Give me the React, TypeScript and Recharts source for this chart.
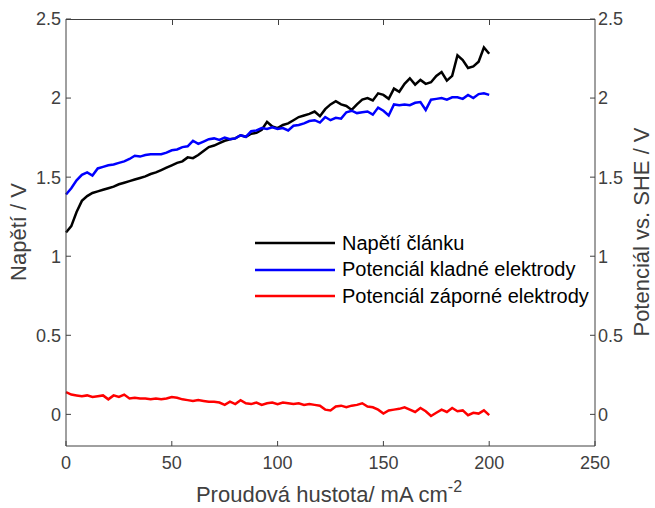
import { Legend, Line, LineChart, XAxis, YAxis } from "recharts";

const proud = [
  0, 2.5, 5, 7.5, 10, 12.5, 15, 17.5, 20, 22.5, 25, 27.5, 30, 32.5, 35, 37.5, 40, 42.5, 45, 47.5,
  50, 52.5, 55, 57.5, 60, 62.5, 65, 67.5, 70, 72.5, 75, 77.5, 80, 82.5, 85, 87.5, 90, 92.5, 95, 97.5,
  100, 102.5, 105, 107.5, 110, 112.5, 115, 117.5, 120, 122.5, 125, 127.5, 130, 132.5, 135, 137.5, 140, 142.5, 145, 147.5,
  150, 152.5, 155, 157.5, 160, 162.5, 165, 167.5, 170, 172.5, 175, 177.5, 180, 182.5, 185, 187.5, 190, 192.5, 195, 197.5,
  200,
];

const napetiClanku = [
  1.15, 1.19, 1.28, 1.35, 1.38, 1.4, 1.41, 1.42, 1.43, 1.44, 1.455, 1.465, 1.475, 1.485, 1.495, 1.505, 1.52, 1.53, 1.545, 1.56,
  1.575, 1.59, 1.6, 1.625, 1.62, 1.64, 1.665, 1.69, 1.7, 1.715, 1.73, 1.74, 1.745, 1.765, 1.755, 1.775, 1.78, 1.8, 1.85, 1.82,
  1.81, 1.83, 1.84, 1.86, 1.88, 1.89, 1.9, 1.915, 1.885, 1.93, 1.96, 1.98, 1.96, 1.95, 1.925, 1.96, 1.99, 2.0, 1.985, 2.03,
  2.02, 1.995, 2.06, 2.04, 2.09, 2.125, 2.085, 2.115, 2.09, 2.1, 2.14, 2.165, 2.11, 2.14, 2.27, 2.24, 2.19, 2.2, 2.23, 2.32,
  2.28,
];

const kladnaElektroda = [
  1.39, 1.43, 1.48, 1.515, 1.53, 1.51, 1.555, 1.565, 1.575, 1.58, 1.59, 1.6, 1.615, 1.635, 1.63, 1.64, 1.645, 1.645, 1.645, 1.655,
  1.67, 1.675, 1.69, 1.695, 1.73, 1.71, 1.725, 1.74, 1.745, 1.735, 1.75, 1.74, 1.745, 1.765, 1.755, 1.79, 1.795, 1.81, 1.805, 1.815,
  1.805, 1.81, 1.795, 1.825, 1.83, 1.84, 1.855, 1.86, 1.845, 1.88, 1.86, 1.875, 1.87, 1.91, 1.92, 1.905, 1.91, 1.915, 1.895, 1.94,
  1.92, 1.89, 1.96, 1.955, 1.96, 1.955, 1.97, 1.975, 1.925, 1.99, 1.995, 2.0, 1.99, 2.005, 2.005, 1.995, 2.02, 2.0, 2.025, 2.03,
  2.02,
];

const zapornaElektroda = [
  0.14, 0.125, 0.12, 0.115, 0.12, 0.11, 0.115, 0.12, 0.095, 0.12, 0.11, 0.125, 0.1, 0.105, 0.1, 0.1, 0.095, 0.1, 0.095, 0.1,
  0.11, 0.105, 0.095, 0.09, 0.085, 0.09, 0.085, 0.08, 0.08, 0.075, 0.06, 0.08, 0.065, 0.09, 0.07, 0.065, 0.075, 0.06, 0.07, 0.075,
  0.065, 0.075, 0.07, 0.065, 0.07, 0.06, 0.065, 0.06, 0.055, 0.03, 0.025, 0.05, 0.055, 0.045, 0.055, 0.06, 0.07, 0.05, 0.045, 0.03,
  0.005, 0.025, 0.03, 0.035, 0.045, 0.03, 0.015, 0.04, 0.02, -0.01, 0.01, 0.03, 0.015, 0.04, 0.02, 0.025, -0.005, 0.01, 0.005, 0.025,
  -0.005,
];

const xTicks = [0, 50, 100, 150, 200, 250];
const yTicks = [0, 0.5, 1, 1.5, 2, 2.5];
const yDomain = [-0.2, 2.5];

const series = [
  { key: "napeti", name: "Napětí článku", color: "#000000" },
  { key: "kladna", name: "Potenciál kladné elektrody", color: "#0000ff" },
  { key: "zaporna", name: "Potenciál záporné elektrody", color: "#ff0000" },
];

const data = proud.map((j, i) => ({
  j,
  napeti: napetiClanku[i],
  kladna: kladnaElektroda[i],
  zaporna: zapornaElektroda[i],
}));

const FONT = "'Liberation Sans', Arial, Helvetica, sans-serif";
const AXIS = "#404040";
const tickStyle = { fill: AXIS, fontSize: 18, fontFamily: FONT };

// plot box, used only for the top edge of the frame
const PLOT_LEFT = 66;
const PLOT_TOP = 19;
const PLOT_W = 529;

function LegendBox() {
  return (
    <div style={{ fontFamily: FONT, fontSize: 20, color: "#000" }}>
      {series.map((s) => (
        <div key={s.key} style={{ display: "flex", alignItems: "center", height: 26.5 }}>
          <svg width={80} height={4} style={{ marginRight: 7 }}>
            <line x1={0} y1={2} x2={80} y2={2} stroke={s.color} strokeWidth={2.5} />
          </svg>
          <span style={{ whiteSpace: "nowrap" }}>{s.name}</span>
        </div>
      ))}
    </div>
  );
}

// top edge of the box (MATLAB style frame) with inward ticks
function TopFrame() {
  const last = xTicks[xTicks.length - 1];
  return (
    <div
      style={{
        position: "absolute",
        left: PLOT_LEFT,
        top: PLOT_TOP,
        width: PLOT_W,
        height: 6,
        borderTop: `1px solid ${AXIS}`,
        zIndex: 10,
        pointerEvents: "none",
      }}
    >
      {xTicks.slice(1, -1).map((t) => (
        <div
          key={t}
          style={{
            position: "absolute",
            left: (t / last) * PLOT_W,
            top: 0,
            width: 1,
            height: 5,
            background: AXIS,
          }}
        />
      ))}
    </div>
  );
}

export default function App() {
  return (
    <div style={{ position: "fixed", left: 0, top: 0, width: 655, height: 508, overflow: "hidden", background: "#fff" }}>
      <LineChart width={655} height={508} data={data} margin={{ top: PLOT_TOP, right: 0, bottom: 0, left: 0 }}>
        <XAxis
          dataKey="j"
          type="number"
          domain={[0, 250]}
          ticks={xTicks}
          height={62}
          tickSize={-5}
          tickMargin={15}
          stroke={AXIS}
          tick={tickStyle}
          label={{
            content: () => (
              <text x={329} y={502} textAnchor="middle" fill={AXIS} fontSize={22} fontFamily={FONT}>
                Proudová hustota/ mA cm
                <tspan dy={-10} fontSize={16}>-2</tspan>
              </text>
            ),
          }}
        />
        <YAxis
          domain={yDomain}
          ticks={yTicks}
          width={66}
          tickSize={-5}
          tickMargin={10}
          stroke={AXIS}
          tick={tickStyle}
          label={{
            content: () => (
              <text
                x={20}
                y={232}
                transform="rotate(-90 20 232)"
                textAnchor="middle"
                dominantBaseline="middle"
                fill={AXIS}
                fontSize={22}
                fontFamily={FONT}
              >
                Napětí / V
              </text>
            ),
          }}
        />
        <YAxis
          yAxisId="right"
          orientation="right"
          domain={yDomain}
          ticks={yTicks}
          width={60}
          tickSize={-5}
          tickMargin={8}
          stroke={AXIS}
          tick={tickStyle}
          label={{
            content: () => (
              <text
                x={643}
                y={232}
                transform="rotate(-90 643 232)"
                textAnchor="middle"
                dominantBaseline="middle"
                fill={AXIS}
                fontSize={22}
                fontFamily={FONT}
              >
                Potenciál vs. SHE / V
              </text>
            ),
          }}
        />
        <Legend
          layout="vertical"
          align="center"
          verticalAlign="middle"
          content={() => <LegendBox />}
          wrapperStyle={{ left: 255, top: 230, width: 340 }}
        />
        {/* invisible copy so the right axis gets a domain and draws its ticks */}
        <Line
          yAxisId="right"
          dataKey="napeti"
          stroke="none"
          legendType="none"
          dot={false}
          activeDot={false}
          isAnimationActive={false}
        />
        {series.map((s) => (
          <Line
            key={s.key}
            dataKey={s.key}
            name={s.name}
            stroke={s.color}
            strokeWidth={2.5}
            dot={false}
            isAnimationActive={false}
          />
        ))}
      </LineChart>
      <TopFrame />
    </div>
  );
}
